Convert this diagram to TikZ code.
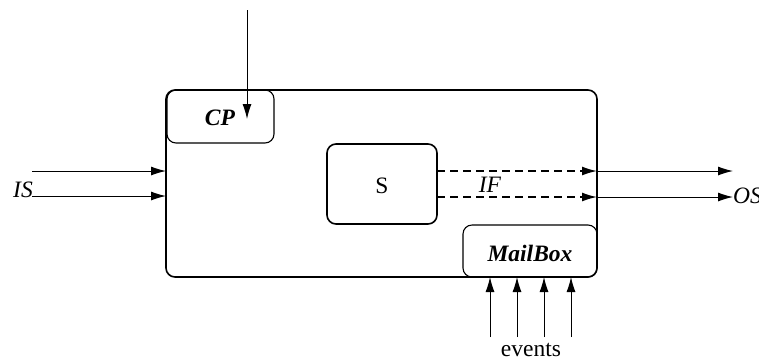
\documentclass[tikz,border=0pt]{standalone}
\usepackage{fontspec}
\setmainfont{Liberation Serif}
\usetikzlibrary{arrows.meta}
\begin{document}
\begin{tikzpicture}[x=1pt,y=-1pt,
  box/.style={draw,line width=1.6pt,rounded corners=9pt},
  subbox/.style={draw,line width=1.1pt,rounded corners=9pt},
  arr/.style={line width=1pt,-{Latex[length=15pt,width=9pt]}},
  dasharr/.style={arr,line width=1.5pt,dash pattern=on 8pt off 5pt},
  lbl/.style={font=\fontsize{23.5}{26}\selectfont,inner sep=0pt}]
\clip (0,0) rectangle (759,360);
\fill[white] (0,0) rectangle (759,360);
% boxes
\draw[box] (166,90) rectangle (597,277);
\draw[subbox] (167,90) rectangle (274,143);
\node[lbl,font=\fontsize{23.5}{26}\selectfont\bfseries\itshape] (cp) at (220,118) {CP};
\draw[box] (327,144) rectangle (437,224);
\node[lbl] (s) at (382,186) {S};
\draw[subbox] (463,225) rectangle (597,277);
\node[lbl,font=\fontsize{23.5}{26}\selectfont\bfseries\itshape] (mb) at (530,253) {MailBox};
% top arrow
\coordinate (top0) at (247,10);
\coordinate (top1) at (247,119);
\draw[arr] (top0) -- (top1);
% IS
\coordinate (is1a) at (32,171);
\coordinate (is1b) at (166,171);
\coordinate (is2a) at (32,196);
\coordinate (is2b) at (166,196);
\draw[arr] (is1a) -- (is1b);
\draw[arr] (is2a) -- (is2b);
\node[lbl,font=\fontsize{23.5}{26}\selectfont\itshape,anchor=base east] (islbl) at (33,197) {IS};
% IF dashed
\coordinate (if1a) at (437,171);
\coordinate (if1b) at (597,171);
\coordinate (if2a) at (437,197);
\coordinate (if2b) at (597,197);
\draw[dasharr] (if1a) -- (if1b);
\draw[dasharr] (if2a) -- (if2b);
\node[lbl,font=\fontsize{23.5}{26}\selectfont\itshape] (iflbl) at (490,185) {IF};
% OS
\coordinate (os1b) at (733,171);
\coordinate (os2b) at (733,197);
\draw[arr] (if1b) -- (os1b);
\draw[arr] (if2b) -- (os2b);
\node[lbl,font=\fontsize{23.5}{26}\selectfont\itshape,anchor=base west] (oslbl) at (733,203) {OS};
% events
\foreach \x [count=\i] in {490,517,544,571} {
  \coordinate (ev\i a) at (\x,337);
  \coordinate (ev\i b) at (\x,277);
  \draw[arr] (ev\i a) -- (ev\i b);
}
\node[lbl,anchor=base] (ev) at (531,356) {events};
\end{tikzpicture}
\end{document}
